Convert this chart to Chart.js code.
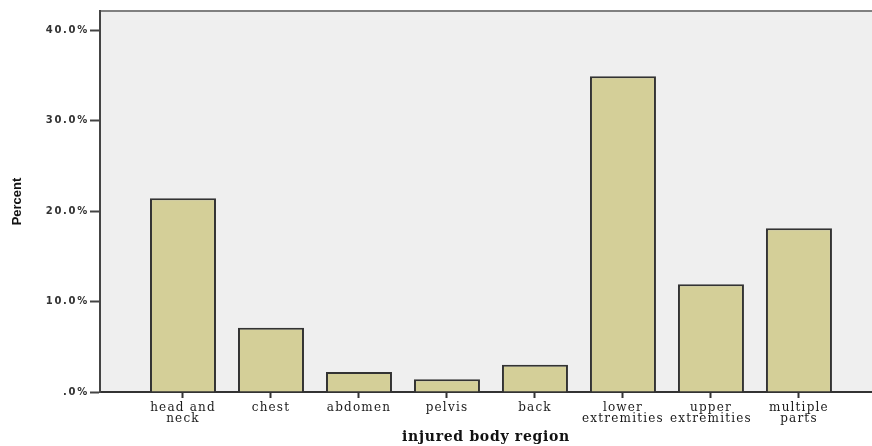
<!DOCTYPE html>
<html>
<head>
<meta charset="utf-8">
<script src="https://cdn.jsdelivr.net/npm/chart.js@4.4.1/dist/chart.umd.min.js"></script>
<style>
  html, body { margin: 0; padding: 0; background: #fff; }
  #wrap { width: 872px; height: 446px; }
</style>
</head>
<body>
<div id="wrap"><canvas id="myChart"></canvas></div>
<script>
const regions = [["head and", "neck"], "chest", "abdomen", "pelvis", "back", ["lower", "extremities"], ["upper", "extremities"], ["multiple", "parts"]];
const percents = [21.4, 7.1, 2.2, 1.4, 3.0, 34.9, 11.9, 18.1];
const yTicks = [0, 10, 20, 30, 40];

// SPSS text looks stretched sideways, fake it with letter spacing
const spacing = { x: "1.2px", y: "1.7px" };

const plotFrame = {
  id: "plotFrame",
  beforeDraw(chart) {
    const { ctx, chartArea: a } = chart;
    ctx.save();
    ctx.fillStyle = "#efefef";
    ctx.fillRect(a.left, a.top, a.right - a.left, a.bottom - a.top);
    ctx.strokeStyle = "#808080";
    ctx.lineWidth = 2;
    ctx.beginPath();
    ctx.moveTo(a.left, a.top);
    ctx.lineTo(a.right, a.top);
    ctx.stroke();
    ctx.restore();

    ["x", "y"].forEach(function (id) {
      const s = chart.scales[id];
      if (s._spaced) return;
      s._spaced = true;
      const drawLabels = s.drawLabels;
      const drawTitle = s.drawTitle;
      s.drawLabels = function (area) {
        const c = this.ctx;
        const old = c.letterSpacing;
        c.letterSpacing = spacing[id];
        drawLabels.call(this, area);
        c.letterSpacing = old;
      };
      if (id === "x") {
        s.drawTitle = function () {
          const c = this.ctx;
          const old = c.letterSpacing;
          c.letterSpacing = "0.7px";
          drawTitle.call(this);
          c.letterSpacing = old;
        };
      }
    });
  }
};

const ctx = document.getElementById("myChart").getContext("2d");

const myChart = new Chart(ctx, {
  type: "bar",
  data: {
    datasets: [
      {
        data: percents.map((p, i) => ({ x: i, y: p })),
        backgroundColor: "#d4cf98",
        borderColor: "#333",
        borderWidth: 2,
        categoryPercentage: 1,
        barPercentage: 0.75,
      },
    ],
  },
  options: {
    responsive: true,
    maintainAspectRatio: false,
    animation: false,
    layout: { padding: { top: 11, left: 0, right: 0, bottom: 0 } },
    plugins: {
      legend: { display: false },
      tooltip: { enabled: false },
    },
    scales: {
      x: {
        type: "linear",
        offset: false,
        min: -0.943,
        max: 7.83,
        afterBuildTicks: (scale) => {
          scale.ticks = regions.map((r, i) => ({ value: i }));
        },
        afterFit: (scale) => {
          scale.height = 54;
        },
        ticks: {
          autoSkip: false,
          maxRotation: 0,
          padding: 4,
          color: "#1a1a1a",
          font: { family: "DejaVu Serif", size: 12, lineHeight: 0.95 },
          callback: (v) => regions[v],
        },
        grid: {
          offset: false,
          drawOnChartArea: false,
          tickLength: 6,
          tickWidth: 2,
          color: "#333",
        },
        border: { color: "#333", width: 2 },
        title: {
          display: true,
          text: "injured body region",
          color: "#111",
          font: { family: "DejaVu Serif", size: 14, weight: "bold" },
          padding: { top: 0, bottom: 0 },
        },
      },
      y: {
        min: 0,
        max: 42.1,
        afterBuildTicks: (scale) => {
          scale.ticks = yTicks.map((v) => ({ value: v }));
        },
        afterFit: (scale) => {
          scale.width = 100;
        },
        ticks: {
          padding: 1,
          color: "#333",
          font: { family: "DejaVu Sans", size: 10, weight: "bold" },
          callback: (v) => (v === 0 ? ".0%" : v.toFixed(1) + "%"),
        },
        grid: {
          drawOnChartArea: false,
          tickLength: 10,
          tickWidth: 2,
          color: "#444",
        },
        border: { color: "#444", width: 2 },
        title: {
          display: true,
          text: "Percent",
          color: "#111",
          font: { family: "Liberation Sans", size: 13, weight: "bold" },
          padding: { top: 10, bottom: 0 },
        },
      },
    },
  },
  plugins: [plotFrame],
});
</script>
</body>
</html>
